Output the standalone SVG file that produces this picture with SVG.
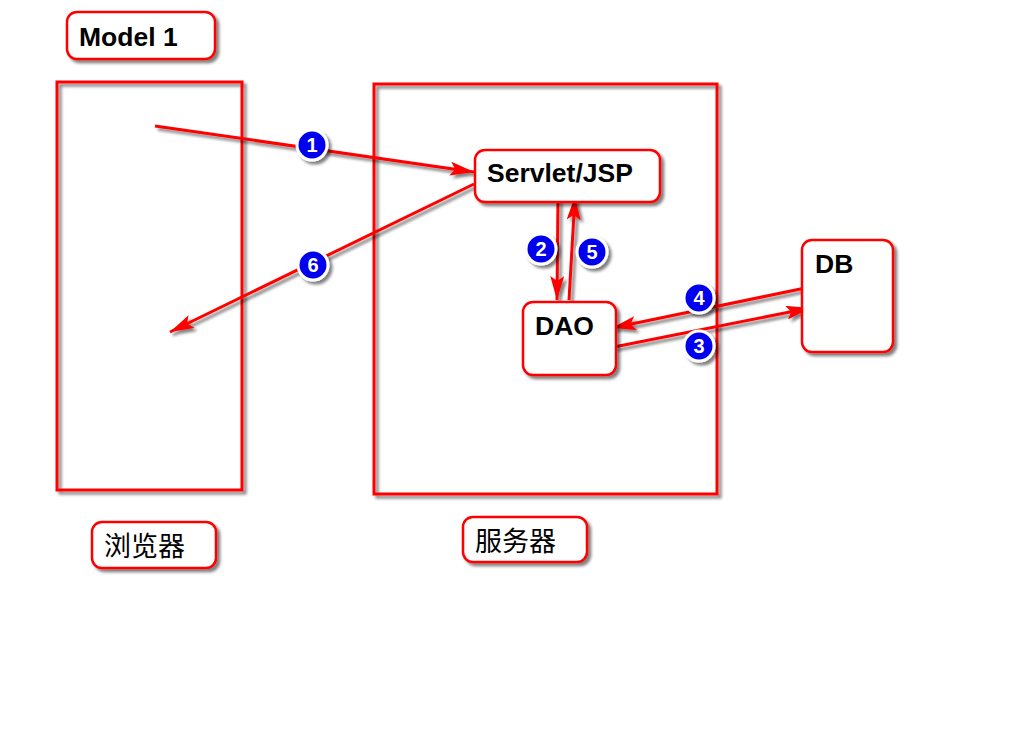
<svg xmlns="http://www.w3.org/2000/svg" width="1024" height="742" viewBox="0 0 1024 742">
<defs>
<filter id="sh" x="-20%" y="-20%" width="150%" height="150%">
<feGaussianBlur in="SourceAlpha" stdDeviation="1.5"/>
<feOffset dx="3" dy="3" result="b"/>
<feComponentTransfer><feFuncA type="linear" slope="0.5"/></feComponentTransfer>
<feMerge><feMergeNode/><feMergeNode in="SourceGraphic"/></feMerge>
</filter>
<filter id="shu" filterUnits="userSpaceOnUse" x="0" y="0" width="1024" height="742">
<feGaussianBlur in="SourceAlpha" stdDeviation="1.5"/>
<feOffset dx="3" dy="3" result="b"/>
<feComponentTransfer><feFuncA type="linear" slope="0.5"/></feComponentTransfer>
<feMerge><feMergeNode/><feMergeNode in="SourceGraphic"/></feMerge>
</filter>
<marker id="a" viewBox="0 0 24 14" refX="24" refY="7" markerWidth="24" markerHeight="14" markerUnits="userSpaceOnUse" orient="auto">
<path d="M0,0 L24,7 L0,14 L5,7 Z" fill="#ff0000"/>
</marker>
</defs>
<style>
.box{fill:#fff;stroke:#ff0000;stroke-width:2.5;filter:url(#sh)}
.frame{fill:none;stroke:#ff0000;stroke-width:3;filter:url(#sh)}
.lbl{font-family:"Liberation Sans",Arial,sans-serif;font-weight:bold;font-size:26.5px;fill:#000}
.cjk{font-family:"Noto Sans CJK SC",sans-serif;font-size:27px;fill:#000}
.ln{stroke:#ff0000;stroke-width:3;fill:none;marker-end:url(#a)}
.bd circle{fill:#0000ee;stroke:#fff;stroke-width:3;filter:url(#sh)}
.bd text{font-family:"Liberation Sans",Arial,sans-serif;font-weight:bold;font-size:20px;fill:#fff;text-anchor:middle}
</style>
<rect width="1024" height="742" fill="#fff"/>
<g id="title"><rect class="box" x="67" y="12" width="148" height="47" rx="10"/><text class="lbl" x="79" y="46">Model 1</text></g>
<g id="browser"><rect class="frame" x="57" y="82" width="185" height="408"/></g>
<g id="server"><rect class="frame" x="374" y="84" width="343" height="410"/></g>
<g id="connectors" filter="url(#shu)">
<line class="ln" x1="155" y1="126" x2="474" y2="172"/>
<line class="ln" x1="474" y1="184" x2="170" y2="332"/>
<line class="ln" x1="558" y1="197" x2="557" y2="300"/>
<line class="ln" x1="569" y1="300" x2="575" y2="196"/>
<line class="ln" x1="810" y1="287" x2="612" y2="328"/>
<line class="ln" x1="614" y1="347" x2="810" y2="308"/>
</g>
<g id="servlet"><rect class="box" x="475" y="150" width="185" height="52" rx="10"/><text class="lbl" x="487" y="182">Servlet/JSP</text></g>
<g id="dao"><rect class="box" x="523" y="302" width="93" height="73" rx="10"/><text class="lbl" x="535" y="335">DAO</text></g>
<g id="db"><rect class="box" x="802" y="240" width="91" height="112" rx="10"/><text class="lbl" x="815" y="273">DB</text></g>
<g id="browser-label"><rect class="box" x="92" y="522" width="124" height="46" rx="10"/><text class="cjk" x="104" y="556">浏览器</text></g>
<g id="server-label"><rect class="box" x="463" y="517" width="124" height="45" rx="10"/><text class="cjk" x="475" y="551">服务器</text></g>
<g class="bd" id="badge1"><circle cx="312" cy="145" r="15"/><text x="312" y="152">1</text></g>
<g class="bd" id="badge2"><circle cx="541" cy="249" r="15"/><text x="541" y="256">2</text></g>
<g class="bd" id="badge3"><circle cx="699" cy="346" r="15"/><text x="699" y="353">3</text></g>
<g class="bd" id="badge4"><circle cx="699" cy="298" r="15"/><text x="699" y="305">4</text></g>
<g class="bd" id="badge5"><circle cx="592" cy="252" r="15"/><text x="592" y="259">5</text></g>
<g class="bd" id="badge6"><circle cx="313" cy="265" r="15"/><text x="313" y="272">6</text></g>
</svg>
